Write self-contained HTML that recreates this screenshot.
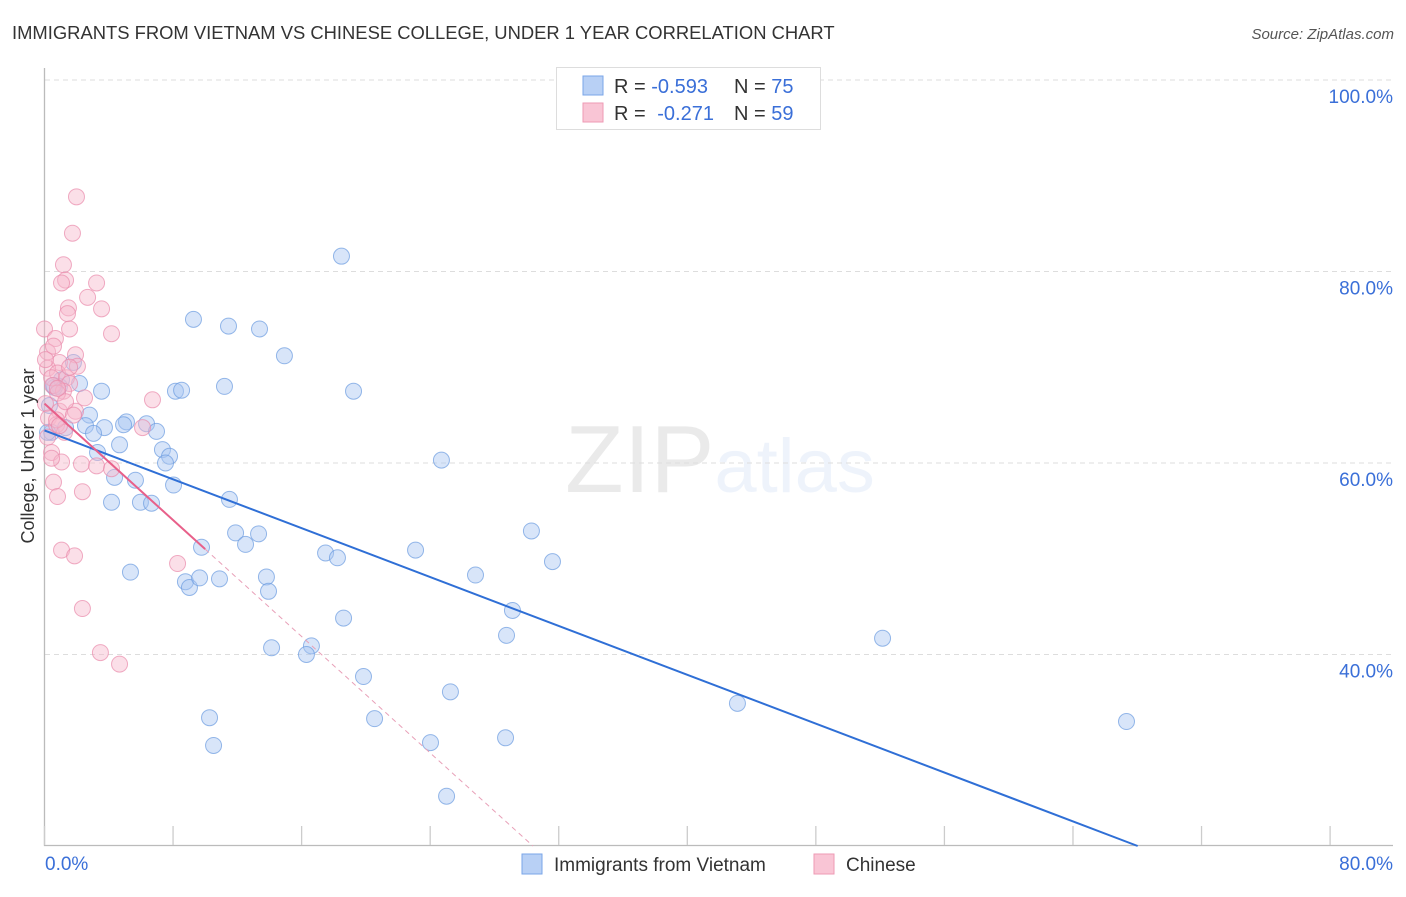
<!DOCTYPE html>
<html><head><meta charset="utf-8">
<style>
body{margin:0;background:#fff;font-family:"Liberation Sans",sans-serif;}
svg text{font-family:"Liberation Sans",sans-serif;}
</style></head>
<body>
<svg id="chart" width="1406" height="892" xmlns="http://www.w3.org/2000/svg">
<text x="12" y="39" font-size="18.4" fill="#333">IMMIGRANTS FROM VIETNAM VS CHINESE COLLEGE, UNDER 1 YEAR CORRELATION CHART</text>
<text x="1394" y="39" font-size="15" fill="#555" text-anchor="end" font-style="italic">Source: ZipAtlas.com</text>
<text x="720" y="492" font-size="96" text-anchor="middle" fill="#000" opacity="0.08" font-family="Liberation Serif">ZIP<tspan fill="#3a78d8" opacity="1.5" font-family="Liberation Sans" font-size="76">atlas</tspan></text>
<g id="grid"></g>
<g id="axes"></g>
<g id="marks"></g>
<text transform="translate(34,456) rotate(-90)" font-size="18" fill="#333" text-anchor="middle">College, Under 1 year</text>
<g>
<rect x="556.5" y="67.5" width="264" height="62" fill="#fff" stroke="#ddd"/>
<rect x="583" y="76" width="20" height="19" fill="#b8d0f5" stroke="#7aa6e8"/>
<text x="614" y="93" font-size="20" fill="#333">R = <tspan fill="#3a6fd8">-0.593</tspan><tspan x="734">N = </tspan><tspan fill="#3a6fd8">75</tspan></text>
<rect x="583" y="103" width="20" height="19" fill="#f9c5d5" stroke="#ee9ab4"/>
<text x="614" y="120" font-size="20" fill="#333">R = <tspan fill="#3a6fd8" dx="6">-0.271</tspan><tspan x="734">N = </tspan><tspan fill="#3a6fd8">59</tspan></text>
</g>
<g>
<rect x="522" y="854" width="20" height="20" fill="#b8d0f5" stroke="#7aa6e8"/>
<text x="554" y="871" font-size="19" fill="#333">Immigrants from Vietnam</text>
<rect x="814" y="854" width="20" height="20" fill="#f9c5d5" stroke="#ee9ab4"/>
<text x="846" y="871" font-size="19" fill="#333">Chinese</text>
</g>
</svg>
<script>
const xTickVals=[0,8,16,24,32,40,48,56,64,72,80];
const yGridVals=[100,80,60,40];
const blueX=[18.48,9.27,11.45,13.38,14.93,11.2,19.23,8.15,8.53,3.55,1.8,2.18,0.93,0.62,2.8,5.1,4.92,6.35,3.73,6.97,2.55,3.05,4.67,7.34,7.78,7.53,3.3,24.7,4.36,5.66,8.03,4.17,5.97,6.66,11.51,30.3,11.89,13.32,12.51,9.77,23.09,17.49,18.23,31.61,5.35,26.82,13.81,8.77,9.02,10.89,9.65,13.94,29.12,18.61,28.75,52.15,14.13,16.61,16.3,19.85,25.26,43.12,10.27,20.54,67.33,10.52,24.02,28.69,25.02,0.44,0.31,1.06,0.19,1.31,0.56];
const blueY=[81.6,75.0,74.3,74.0,71.2,68.0,67.5,67.5,67.6,67.5,70.5,68.3,68.0,67.9,65.0,64.3,64.0,64.1,63.7,63.3,63.9,63.1,61.9,61.4,60.7,60.0,61.1,60.3,58.5,58.2,57.7,55.9,55.9,55.8,56.2,52.9,52.7,52.6,51.5,51.2,50.9,50.6,50.1,49.7,48.6,48.3,48.1,47.6,47.0,47.9,48.0,46.6,44.6,43.8,42.0,41.7,40.7,40.9,40.0,37.7,36.1,34.9,33.4,33.3,33.0,30.5,30.8,31.3,25.2,63.2,66.0,68.7,63.2,63.7,68.1];
const pinkX=[1.99,1.74,1.18,1.31,1.06,3.24,2.68,1.49,3.55,1.43,0,1.56,4.17,0.68,0.19,1.93,0.93,2.05,0.19,0.81,0.44,1.37,1.56,0.5,1.18,0.81,2.49,6.72,0.06,0.93,1.93,0.25,0.75,6.1,1.24,0.19,0.44,1.06,2.3,3.24,4.17,0.56,2.36,0.81,1.06,1.87,8.28,2.36,3.48,4.67,0.75,0.44,1.31,1.56,0.56,0.06,0.93,1.8,0.81];
const pinkY=[87.8,84.0,80.7,79.1,78.8,78.8,77.3,76.2,76.1,75.6,74.0,74.0,73.5,73.0,71.6,71.3,70.5,70.1,69.9,69.4,68.9,68.9,68.3,68.1,67.5,67.3,66.8,66.6,66.2,65.4,65.4,64.7,64.0,63.7,63.2,62.7,61.1,60.1,59.9,59.7,59.4,58.0,57.0,56.5,50.9,50.3,49.5,44.8,40.2,39.0,64.5,60.5,66.4,70.0,72.2,70.8,63.9,65.0,67.8];
const blueTrend=[63.4,-0.638];
const pinkTrend=[66.2,-1.52];
const xPx=v=>44.5+v*16.07;
const yPx=v=>80+(100-v)*9.575;
const NS='http://www.w3.org/2000/svg';
function mk(tag,parent,attrs){const e=document.createElementNS(NS,tag);for(const k in attrs)e.setAttribute(k,attrs[k]);parent.appendChild(e);return e;}
const grid=document.getElementById('grid'),axes=document.getElementById('axes'),marks=document.getElementById('marks');
yGridVals.forEach(v=>{
 const l=mk('line',grid,{x1:45,x2:1393,y1:yPx(v),y2:yPx(v),stroke:'#ddd','stroke-dasharray':'5,4'});
 
 
 const t=mk('text',grid,{x:1393,y:yPx(v)+23,'font-size':19,fill:'#3a6fd8','text-anchor':'end'});
 t.textContent=v.toFixed(1)+'%';
 
 
});
const ax=mk('path',axes,{d:'M44.5,68V845.5H1393',fill:'none',stroke:'#bbb','stroke-width':1.3});


xTickVals.forEach(v=>{
 const tk=mk('line',axes,{x1:xPx(v),x2:xPx(v),y1:826,y2:845,stroke:'#ccc','stroke-width':1.3});
 
 
});
[[0,'start',45],[80,'end',1393]].forEach(([v,a,x])=>{
 const t=mk('text',axes,{x:x,y:870,'font-size':19,fill:'#3a6fd8','text-anchor':a});
 t.textContent=v.toFixed(1)+'%';
 
 
});
function dots(xs,ys,fill,stroke,name){
 xs.forEach((x,i)=>{
  const c=mk('circle',marks,{cx:xPx(x),cy:yPx(ys[i]),r:8,fill:fill,'fill-opacity':0.45,stroke:stroke,'stroke-opacity':0.7});
  
  
 });
}
dots(blueX,blueY,'#a9c6f2','#6b9be0','vietnam-point');
dots(pinkX,pinkY,'#f7b8cc','#e98aab','chinese-point');
function yAt(t,x){return t[0]+t[1]*x;}
const bEnd=(20-blueTrend[0])/blueTrend[1];
const bl=mk('line',marks,{x1:xPx(0),y1:yPx(yAt(blueTrend,0)),x2:xPx(bEnd),y2:yPx(20),stroke:'#2f6fd6','stroke-width':2});


const pl=mk('line',marks,{x1:xPx(0),y1:yPx(yAt(pinkTrend,0)),x2:xPx(10),y2:yPx(yAt(pinkTrend,10)),stroke:'#e8608a','stroke-width':2});


const pEnd=(20-pinkTrend[0])/pinkTrend[1];
const pd=mk('line',marks,{x1:xPx(10),y1:yPx(yAt(pinkTrend,10)),x2:xPx(pEnd),y2:yPx(20),stroke:'#e8a0b8','stroke-width':1,'stroke-dasharray':'5,4'});


</script>
</body></html>
